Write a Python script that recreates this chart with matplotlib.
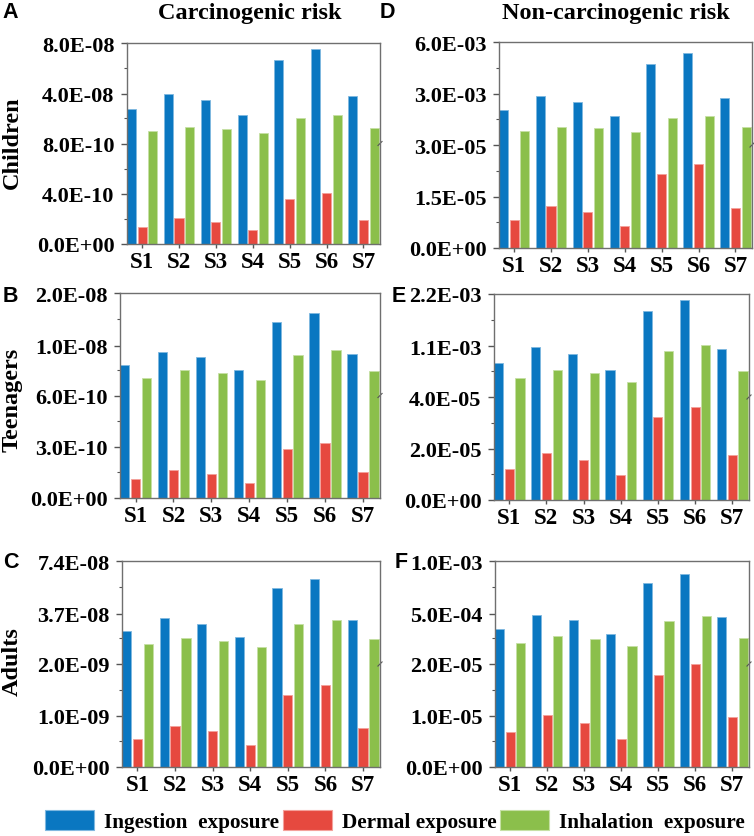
import numpy as np
import matplotlib
matplotlib.use("Agg")
import matplotlib.pyplot as plt
from matplotlib.patches import Patch

sites = ["S1", "S2", "S3", "S4", "S5", "S6", "S7"]
series_names = ["Ingestion  exposure", "Dermal exposure", "Inhalation  exposure"]

# A: carcinogenic risk, children
ingestion_A = [2.76e-08, 3.96e-08, 3.48e-08, 2.29e-08, 6.67e-08, 7.55e-08, 3.80e-08]
dermal_A = [1.37e-10, 2.05e-10, 1.79e-10, 1.10e-10, 3.55e-10, 4.03e-10, 1.95e-10]
inhalation_A = [1.06e-08, 1.36e-08, 1.25e-08, 9.0e-09, 2.10e-08, 2.29e-08, 1.30e-08]
ticks_A = ["0.0E+00", "4.0E-10", "8.0E-10", "4.0E-08", "8.0E-08"]

# B: carcinogenic risk, teenagers
ingestion_B = [6.4e-09, 8.9e-09, 7.9e-09, 5.4e-09, 1.46e-08, 1.63e-08, 8.5e-09]
dermal_B = [1.09e-10, 1.63e-10, 1.39e-10, 8.5e-11, 2.84e-10, 3.24e-10, 1.55e-10]
inhalation_B = [4.0e-09, 5.4e-09, 4.8e-09, 3.5e-09, 8.3e-09, 9.3e-09, 5.2e-09]
ticks_B = ["0.0E+00", "3.0E-10", "6.0E-10", "1.0E-08", "2.0E-08"]

# C: carcinogenic risk, adults
ingestion_C = [2.51e-08, 3.43e-08, 3.03e-08, 2.09e-08, 5.51e-08, 6.14e-08, 3.29e-08]
dermal_C = [5.35e-10, 8.0e-10, 6.9e-10, 4.2e-10, 1.40e-09, 1.59e-09, 7.6e-10]
inhalation_C = [1.60e-08, 2.0e-08, 1.79e-08, 1.39e-08, 2.98e-08, 3.29e-08, 1.95e-08]
ticks_C = ["0.0E+00", "1.0E-09", "2.0E-09", "3.7E-08", "7.4E-08"]

# D: non-carcinogenic risk, children
ingestion_D = [2.08e-03, 2.85e-03, 2.52e-03, 1.72e-03, 4.75e-03, 5.36e-03, 2.78e-03]
dermal_D = [8.26e-06, 1.22e-05, 1.06e-05, 6.5e-06, 2.16e-05, 2.45e-05, 1.17e-05]
inhalation_D = [8.66e-04, 1.08e-03, 1.0e-03, 7.66e-04, 1.60e-03, 1.72e-03, 1.08e-03]
ticks_D = ["0.0E+00", "1.5E-05", "3.0E-05", "3.0E-03", "6.0E-03"]

# E: non-carcinogenic risk, teenagers
ingestion_E = [7.6e-04, 1.08e-03, 9.35e-04, 6.1e-04, 1.84e-03, 2.07e-03, 1.04e-03]
dermal_E = [1.22e-05, 1.82e-05, 1.56e-05, 9.6e-06, 3.22e-05, 3.63e-05, 1.74e-05]
inhalation_E = [4.3e-04, 6.1e-04, 5.4e-04, 3.6e-04, 1.01e-03, 1.13e-03, 5.8e-04]
ticks_E = ["0.0E+00", "2.0E-05", "4.0E-05", "1.1E-03", "2.2E-03"]

# F: non-carcinogenic risk, adults
ingestion_F = [3.54e-04, 4.88e-04, 4.34e-04, 3.03e-04, 7.9e-04, 8.79e-04, 4.69e-04]
dermal_F = [6.8e-06, 1.01e-05, 8.6e-06, 5.4e-06, 1.79e-05, 2.03e-05, 9.7e-06]
inhalation_F = [2.24e-04, 2.87e-04, 2.59e-04, 1.95e-04, 4.27e-04, 4.75e-04, 2.71e-04]
ticks_F = ["0.0E+00", "1.0E-05", "2.0E-05", "5.0E-04", "1.0E-03"]

colors = ["#0A77C1", "#E6493F", "#8BBF4B"]
edges = ["#7FB8E0", "#F4A19B", "#C6E0A5"]
serif = "Liberation Serif"
sans = "Liberation Sans"


def broken_scale(brk, top):
    # lower half of the axis: 0..brk, upper half: brk..top
    def fwd(v):
        v = np.asarray(v, dtype=float)
        return np.where(v <= brk, v / brk * 0.5, 0.5 + (v - brk) / (top - brk) * 0.5)

    def inv(t):
        t = np.asarray(t, dtype=float)
        return np.where(t <= 0.5, t / 0.5 * brk, brk + (t - 0.5) / 0.5 * (top - brk))

    return fwd, inv


def draw_panel(rect, letter, letter_xy, values, tick_labels):
    ax = fig.add_axes(rect)
    tick_vals = [float(s) for s in tick_labels]
    brk, top = tick_vals[2], tick_vals[4]
    fwd, inv = broken_scale(brk, top)
    ax.set_yscale("function", functions=(fwd, inv))

    x = np.arange(len(sites))
    offsets = [-0.29, 0.0, 0.29]
    for vals, off, c, e in zip(values, offsets, colors, edges):
        ax.bar(x + off, vals, width=0.245, color=c, edgecolor=e, linewidth=0.6)

    ax.set_xlim(-0.41, 6.45)
    ax.set_ylim(0, top)
    ax.set_xticks(x)
    ax.set_xticklabels(sites, fontfamily=serif, fontweight="bold", fontsize=16.5)
    ax.set_yticks(tick_vals)
    ax.set_yticklabels(tick_labels, fontfamily=serif, fontweight="bold", fontsize=16)
    ax.set_yticks(inv([0.125, 0.375, 0.625, 0.875]), minor=True)
    ax.tick_params(axis="y", which="major", length=4, width=1, pad=5, color="#555555")
    ax.tick_params(axis="y", which="minor", length=2, width=0.8, color="#555555")
    ax.tick_params(axis="x", length=3, width=1, pad=2, color="#555555")
    for sp in ax.spines.values():
        sp.set_color("#6f6f6f")
        sp.set_linewidth(1.0)

    # small break marks on the right spine
    ax.plot([0.992, 1.008], [0.49, 0.51], transform=ax.transAxes, color="#555555",
            lw=0.8, clip_on=False)

    fig.text(letter_xy[0] / 754, 1 - letter_xy[1] / 837, letter, fontfamily=sans,
             fontweight="bold", fontsize=15.5, ha="center", va="center")
    return ax


fig = plt.figure(figsize=(7.54, 8.37), dpi=100)

draw_panel([127 / 754, 1 - 245 / 837, 253 / 754, 201 / 837], "A", (10, 13),
           [ingestion_A, dermal_A, inhalation_A], ticks_A)
draw_panel([120 / 754, 1 - 499 / 837, 260 / 754, 205 / 837], "B", (10, 297),
           [ingestion_B, dermal_B, inhalation_B], ticks_B)
draw_panel([122 / 754, 1 - 768 / 837, 258 / 754, 206 / 837], "C", (11, 563),
           [ingestion_C, dermal_C, inhalation_C], ticks_C)
draw_panel([499 / 754, 1 - 249 / 837, 253 / 754, 206 / 837], "D", (387, 13),
           [ingestion_D, dermal_D, inhalation_D], ticks_D)
draw_panel([494 / 754, 1 - 501 / 837, 255 / 754, 206 / 837], "E", (399, 297),
           [ingestion_E, dermal_E, inhalation_E], ticks_E)
draw_panel([495 / 754, 1 - 768 / 837, 254 / 754, 206 / 837], "F", (401, 563),
           [ingestion_F, dermal_F, inhalation_F], ticks_F)

fig.text(250 / 754, 1 - 14 / 837, "Carcinogenic risk", fontfamily=serif,
         fontweight="bold", fontsize=17.5, ha="center", va="center")
fig.text(616 / 754, 1 - 14 / 837, "Non-carcinogenic risk", fontfamily=serif,
         fontweight="bold", fontsize=17.5, ha="center", va="center")

for name, yc in [("Children", 143), ("Teenagers", 400), ("Adults", 662)]:
    fig.text(12 / 754, 1 - yc / 837, name, fontfamily=serif, fontweight="bold",
             fontsize=17.5, rotation=90, ha="center", va="center")

handles = [Patch(facecolor=c, edgecolor=e, linewidth=0.8) for c, e in zip(colors, edges)]
fig.legend(handles, series_names, loc="center", bbox_to_anchor=(395 / 754, 1 - 822 / 837),
           ncol=3, frameon=False, handlelength=2.3, handleheight=1.05,
           handletextpad=0.45, columnspacing=0.2, borderpad=0.1, borderaxespad=0.1,
           prop={"family": serif, "weight": "bold", "size": 15.3})

fig.savefig("out.png", dpi=100)
